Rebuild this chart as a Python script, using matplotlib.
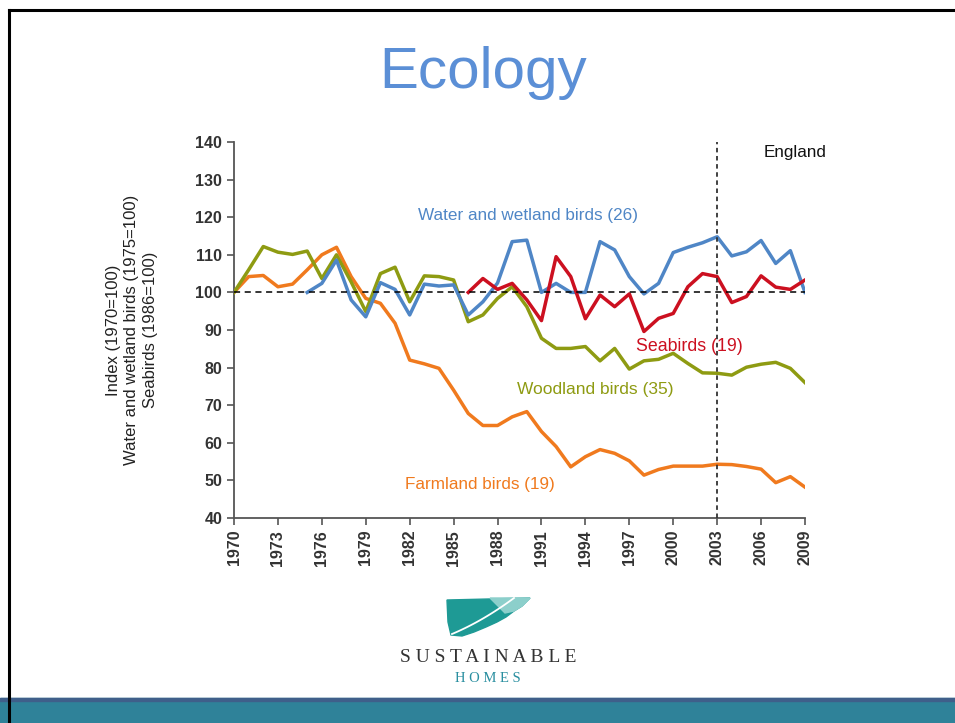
import numpy as np
import matplotlib.pyplot as plt
from matplotlib.patches import Polygon, Rectangle
from matplotlib.lines import Line2D

plt.rcParams['font.family'] = ['Liberation Sans', 'DejaVu Sans']

# DATA
years = list(range(1970, 2010))

farmland = [100, 104.2, 104.5, 101.5, 102.2, 106, 110, 112, 104.2, 98.4,
            97.1, 91.8, 82, 81, 79.8, 74, 67.8, 64.6, 64.6, 66.9,
            68.3, 63, 59, 53.6, 56.3, 58.2, 57.2, 55.2, 51.4, 52.9,
            53.8, 53.8, 53.8, 54.3, 54.2, 53.7, 53, 49.4, 51, 48.2]

woodland = [100, 106, 112.2, 110.7, 110.1, 111, 103.7, 110, 102.8, 94.9,
            105, 106.7, 97.5, 104.4, 104.2, 103.3, 92.2, 94, 98.4, 101.5,
            96.2, 87.8, 85.1, 85.1, 85.6, 81.8, 85.1, 79.6, 81.8, 82.2,
            83.8, 81.1, 78.6, 78.5, 78, 80.1, 80.9, 81.4, 79.8, 76]

water_years = list(range(1975, 2010))
water = [100, 102.4, 108.6, 98, 93.5, 102.6, 100.8, 94, 102.2, 101.7,
         102, 94, 97.5, 102.5, 113.5, 113.9, 100, 102.4, 100, 100,
         113.5, 111.3, 104.2, 99.6, 102.4, 110.6, 112, 113.2, 114.8, 109.7,
         110.8, 113.8, 107.7, 111.1, 100]

sea_years = list(range(1986, 2010))
seabirds = [100, 103.7, 100.8, 102.4, 98, 92.5, 109.5, 104.2, 93, 99.3,
            96.2, 99.6, 89.6, 93.1, 94.4, 101.5, 105, 104.2, 97.3, 98.9,
            104.4, 101.4, 100.8, 103.3]

year_ticks = list(range(1970, 2010, 3))
y_ticks = list(range(40, 141, 10))

BLUE = '#4F86C6'
RED = '#CC1020'
OLIVE = '#8E9B12'
ORANGE = '#F07A1E'
TEAL = '#2F8299'

W, H = 955, 723
fig = plt.figure(figsize=(W / 100, H / 100), dpi=100)


def fx(x):
    return x / W


def fy(y):
    return 1 - y / H


# SLIDE FRAME
fig.add_artist(Rectangle((0, fy(723)), 1, (723 - 698) / H, transform=fig.transFigure,
                         color=TEAL, zorder=0))
fig.add_artist(Rectangle((0, fy(701)), 1, 3 / H, transform=fig.transFigure,
                         color='#3F5F8A', zorder=1))
fig.add_artist(Line2D([fx(9), 1], [fy(10), fy(10)], transform=fig.transFigure,
                      color='black', lw=2.2, zorder=5))
fig.add_artist(Line2D([fx(9), fx(9)], [fy(10), 0], transform=fig.transFigure,
                      color='black', lw=2.2, zorder=5))

fig.text(fx(483), fy(73), 'Ecology', ha='center', va='center',
         fontsize=42, color='#5B8FD6')

# CHART
ax = fig.add_axes([fx(234), fy(518), fx(805 - 234), (518 - 142) / H])

ax.plot(years, farmland, color=ORANGE, lw=2.5, zorder=3)
ax.plot(years, woodland, color=OLIVE, lw=2.5, zorder=3)
ax.plot(water_years, water, color=BLUE, lw=2.5, zorder=4)
ax.plot(sea_years, seabirds, color=RED, lw=2.5, zorder=5)

ax.axhline(100, color='black', lw=1.1, ls=(0, (4, 3)), zorder=6)
ax.axvline(2003, color='#333333', lw=1.3, ls=(0, (2.5, 2)), zorder=6)

ax.set_xlim(1970, 2009)
ax.set_ylim(40, 140)
ax.set_xticks(year_ticks)
ax.set_xticklabels([str(y) for y in year_ticks], rotation=90)
ax.set_yticks(y_ticks)

for s in ['top', 'right']:
    ax.spines[s].set_visible(False)
for s in ['left', 'bottom']:
    ax.spines[s].set_color('#555555')
    ax.spines[s].set_linewidth(1.3)

ax.tick_params(axis='both', colors='#555555', width=1.2, length=5,
               labelcolor='#333333', labelsize=11.5)
for lab in ax.get_xticklabels() + ax.get_yticklabels():
    lab.set_fontweight('bold')

ax.set_ylabel('Index (1970=100)\nWater and wetland birds (1975=100)\nSeabirds (1986=100)',
              fontsize=12, color='#222222', labelpad=27, linespacing=1.3)

ax.text(1990.1, 120.5, 'Water and wetland birds (26)', color=BLUE, fontsize=12.3,
        ha='center', va='center')
ax.text(2001.1, 85.7, 'Seabirds (19)', color=RED, fontsize=12.8,
        ha='center', va='center')
ax.text(1994.7, 74.3, 'Woodland birds (35)', color=OLIVE, fontsize=12.5,
        ha='center', va='center')
ax.text(1986.8, 49, 'Farmland birds (19)', color=ORANGE, fontsize=12.3,
        ha='center', va='center')
ax.text(2008.3, 137.3, 'England', color='#111111', fontsize=12.3,
        ha='center', va='center')

# LOGO
feather = [(447, 600), (530, 598), (522, 606), (514, 611), (506, 617),
           (497, 622), (486, 627), (474, 632), (462, 636), (451, 635),
           (448, 622)]
fig.add_artist(Polygon([(fx(x), fy(y)) for x, y in feather], closed=True,
                       transform=fig.transFigure, color='#1E9A95', zorder=2))
fig.add_artist(Polygon([(fx(x), fy(y)) for x, y in
                        [(490, 598), (530, 598), (522, 606), (514, 611), (505, 613)]],
                       closed=True, transform=fig.transFigure, color='#8CCFCB', zorder=3))
t = np.linspace(0, 1, 30)
fig.add_artist(Line2D(fx(452 + 62 * t), fy(634 - 36 * t + 10 * t * (1 - t)),
                      transform=fig.transFigure, color='white', lw=1.3, zorder=4))

fig.text(fx(488), fy(658), 'S U S T A I N A B L E', ha='center', va='center',
         fontsize=14, color='#333333', family=['Liberation Serif', 'DejaVu Serif'])
fig.text(fx(488), fy(679), 'H O M E S', ha='center', va='center',
         fontsize=10.5, color='#2A8FA0', family=['Liberation Serif', 'DejaVu Serif'])

fig.savefig('out.png', dpi=100)
